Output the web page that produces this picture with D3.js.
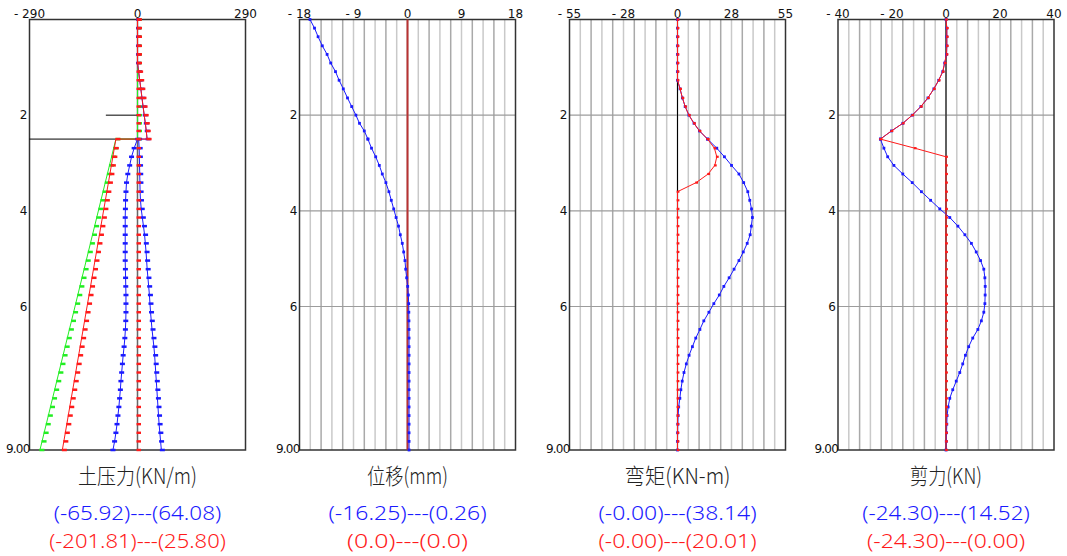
<!DOCTYPE html>
<html>
<head>
  <meta charset="UTF-8">
  <style>
    body { margin: 0; background: #fff; }
    svg { display: block; }
    .num { font-family: "DejaVu Sans", sans-serif; font-size: 12px; fill: #111; }
    .title { font-family: "Noto Sans CJK SC", sans-serif; font-weight: 300; font-size: 22px; fill: #222; }
    .stat { font-family: "Noto Sans", sans-serif; font-weight: 300; font-size: 20px; }
  </style>
</head>
<body>
<svg></svg>
<script src="https://d3js.org/d3.v7.min.js"></script>
<script>

let width = 1067, height = 556;

// depth of each node (m), 2.5 twice for the jump at excavation level
const depths = [0,0.18,0.36,0.55,0.73,0.91,1.09,1.27,1.45,1.64,1.82,2.0,2.17,2.33,2.5,2.5,
  2.69,2.87,3.05,3.23,3.41,3.6,3.78,3.96,4.14,4.32,4.5,4.68,4.86,5.04,5.22,5.4,5.58,5.76,5.94,
  6.12,6.3,6.48,6.66,6.84,7.02,7.2,7.38,7.56,7.74,7.92,8.1,8.28,8.46,8.64,8.82,9.0];

// earth pressure (KN/m)
const pressRed = [0,0,0,0,0,0,3,6,9,12,15,18,21,23.5,25.8,-58,
  -62.2,-66.2,-70.2,-74.1,-78.1,-82.3,-86.3,-90.3,-94.3,-98.3,-102.2,-106.2,-110.2,-114.2,-118.2,-122.1,-126.1,-130.1,-134.1,
  -138.1,-142.1,-146.0,-150.0,-154.0,-158.0,-162.0,-165.9,-169.9,-173.9,-177.9,-181.9,-185.9,-189.8,-193.8,-197.8,-201.81];
const pressGreen = [0,0,0,0,0,0,0,0,0,0,0,0,0,0,0,-58,
  -64.0,-69.6,-75.3,-80.9,-86.6,-92.5,-98.2,-103.8,-109.5,-115.1,-120.8,-126.4,-132.1,-137.7,-143.4,-149.0,-154.7,-160.3,-165.9,
  -171.6,-177.2,-182.9,-188.5,-194.2,-199.8,-205.5,-211.1,-216.8,-222.4,-228.1,-233.7,-239.4,-245.0,-250.7,-256.3,-262.0];
const pressBlueL = [null,null,null,null,null,null,null,null,null,null,null,null,null,null,null,0,
  -9,-16,-21,-26,-29.5,-31,-32,-32.5,-33,-33,-33,-33,-33,-33,-32.5,-32,-31.5,-31,-31,
  -31,-31.5,-32.5,-34,-36,-38.5,-40.5,-42.5,-44.5,-46,-48,-50,-52.5,-55,-58,-61.5,-65.92];
const pressBlueR = [0,0,0,0,0,0,3,6,9,12,15,18,21,23.5,25.8,3,
  4.5,5,5.5,6,6.5,7,8,10,13,16,19,21,23,24.5,26,28,30,32,33.5,
  35,37,39,41.5,44,46,47.5,49,50.5,52,53.5,55,56.5,58,60,62,64.08];
const strutDepth = 2.0, strutLen = -85, excavDepth = 2.5;

// displacement (mm)
const dispBlue = [-16.25,-15.5,-14.9,-14.2,-13.4,-12.8,-12.0,-11.4,-10.7,-10.0,-9.3,-8.6,-8.0,-7.2,-6.6,-6.6,
  -6.0,-5.3,-4.7,-4.2,-3.6,-3.1,-2.7,-2.3,-1.9,-1.5,-1.2,-0.87,-0.64,-0.42,-0.3,-0.14,0.03,0.14,0.2,
  0.22,0.24,0.25,0.26,0.26,0.26,0.26,0.26,0.26,0.26,0.26,0.26,0.26,0.26,0.26,0.26,0.26];

// bending moment (KN-m)
const momRed = [0,0,0,0,0,0,0,0,1.3,2.5,3.9,5.8,8.4,11.2,15.3,15.3,
  18.8,20.01,19.0,15.6,9.5,0,0,0,0,0,0,0,0,0,0,0,0,0,0,
  0,0,0,0,0,0,0,0,0,0,0,0,0,0,0,0,0];
const momBlue = [0,0,0,0,0,0,0,0,1.3,2.5,3.9,5.8,8.4,11.2,15.3,15.3,
  20.0,23.9,27.5,31.3,33.7,35.8,36.8,37.7,38.14,37.6,37.0,35.5,33.5,31.3,28.8,26.3,23.6,21.3,18.5,
  16.0,13.4,11.4,9.3,7.6,5.9,4.5,3.3,2.4,1.7,1.2,0.6,0.3,0.15,0.05,0,0];

// shear force (KN)
const shearRed = [0,0.3,0.3,0.3,0.2,-0.5,-1.2,-2.7,-4.5,-6.7,-9.3,-12.5,-16.0,-20.2,-24.3,-24.3,
  -11.6,0,0,0,0,0,0,0,0,0,0,0,0,0,0,0,0,0,0,
  0,0,0,0,0,0,0,0,0,0,0,0,0,0,0,0,0];
const shearBlue = [0,0.3,0.3,0.3,0.2,-0.5,-1.2,-2.7,-4.5,-6.7,-9.3,-12.5,-16.0,-20.2,-24.3,-24.3,
  -23.0,-21.6,-19.3,-16.0,-12.5,-9.1,-5.7,-2.3,1.4,4.4,7.0,9.4,11.2,12.8,14.0,14.4,14.52,14.5,14.4,
  14.0,13.1,11.8,9.9,8.4,7.2,6.2,5.1,3.8,2.5,1.4,0.8,0.4,0.3,0.2,0.1,0];

const titles = ["土压力(KN/m)", "位移(mm)", "弯矩(KN-m)", "剪力(KN)"];
const titleWidths = [119, 81, 106, 72];
const blueStats = ["(-65.92)---(64.08)", "(-16.25)---(0.26)", "(-0.00)---(38.14)", "(-24.30)---(14.52)"];
const redStats = ["(-201.81)---(25.80)", "(0.0)---(0.0)", "(-0.00)---(20.01)", "(-24.30)---(0.00)"];
const xLimits = [290, 18, 55, 40];
const topTicks = [[-290, 0, 290], [-18, -9, 0, 9, 18], [-55, -27.5, 0, 27.5, 55], [-40, -20, 0, 20, 40]];
const topTickLabels = [["-290", "0", "290"], ["-18", "-9", "0", "9", "18"], ["-55", "-28", "0", "28", "55"], ["-40", "-20", "0", "20", "40"]];
const depthTicks = [2, 4, 6];

let svg = d3.select("svg")
    .attr("width", width).attr("height", height)
    .attr("viewBox", "0 0 " + width + " " + height);

const panelLeft = [29.5, 299.5, 569.5, 838], panelW = 216;
const y = d3.scaleLinear().domain([0, 9]).range([19.5, 450]);
const charW = 9.3; // the value lines are set in a fixed-pitch CAD font

const BLUE = "#1a1aff", RED = "#ff1a1a", GREEN = "#22ee22";

function drawSeries(g, x, vals, color, markW, markH, dx) {
    let pts = depths.map((d, i) => [d, vals[i]]);
    let line = d3.line().defined(p => p[1] != null).x(p => x(p[1])).y(p => y(p[0]));
    g.append("path").attr("d", line(pts)).attr("fill", "none")
        .attr("stroke", color).attr("stroke-width", 1);
    g.append("g").selectAll("rect")
        .data(pts.filter(p => p[1] != null))
        .enter().append("rect")
        .attr("x", p => x(p[1]) - markW / 2 + dx)
        .attr("y", p => y(p[0]) - markH / 2)
        .attr("width", markW).attr("height", markH)
        .attr("fill", color);
}

for (let k = 0; k < 4; k++) {
    let x0 = panelLeft[k];
    let x = d3.scaleLinear().domain([-xLimits[k], xLimits[k]]).range([x0, x0 + panelW]);
    let g = svg.append("g");
    let cx = x0 + panelW / 2;

    if (k > 0) {
        // vertical grid, 20 intervals
        for (let i = 1; i < 20; i++) {
            let xv = x0 + i * panelW / 20;
            g.append("line").attr("x1", xv).attr("x2", xv).attr("y1", y(0)).attr("y2", y(9))
                .attr("stroke", i % 2 ? "#c9c9c9" : "#a9a9a9").attr("stroke-width", 1.5);
        }
        depthTicks.forEach(d => {
            g.append("line").attr("x1", x0).attr("x2", x0 + panelW).attr("y1", y(d)).attr("y2", y(d))
                .attr("stroke", "#9c9c9c").attr("stroke-width", 1.2);
        });
    }

    // frame
    g.append("rect").attr("x", x0).attr("y", y(0)).attr("width", panelW).attr("height", y(9) - y(0))
        .attr("fill", "none").attr("stroke", "#333").attr("stroke-width", 1.5);

    // top labels
    g.selectAll(".tt").data(topTicks[k]).enter().append("text")
        .attr("class", "num").attr("x", v => x(v)).attr("y", 18)
        .attr("text-anchor", "middle")
        .text((v, i) => topTickLabels[k][i].replace("-", "- "));

    // depth labels
    depthTicks.forEach(d => {
        g.append("text").attr("class", "num").attr("x", x0 - 2).attr("y", y(d) + 4)
            .attr("text-anchor", "end").text(d);
    });
    g.append("text").attr("class", "num").attr("x", x0).attr("y", y(9) + 3)
        .attr("text-anchor", "end").attr("letter-spacing", -0.8).text("9.00");

    // titles and extreme values
    g.append("text").attr("class", "title").attr("x", cx - titleWidths[k] / 2).attr("y", 484)
        .attr("textLength", titleWidths[k]).attr("lengthAdjust", "spacingAndGlyphs")
        .text(titles[k]);
    g.append("text").attr("class", "stat").attr("x", cx - blueStats[k].length * charW / 2).attr("y", 520)
        .attr("textLength", blueStats[k].length * charW).attr("lengthAdjust", "spacingAndGlyphs")
        .attr("fill", BLUE).text(blueStats[k]);
    g.append("text").attr("class", "stat").attr("x", cx - redStats[k].length * charW / 2).attr("y", 548)
        .attr("textLength", redStats[k].length * charW).attr("lengthAdjust", "spacingAndGlyphs")
        .attr("fill", RED).text(redStats[k]);

    if (k === 0) {
        g.append("line").attr("x1", x(0)).attr("x2", x(0)).attr("y1", y(0)).attr("y2", y(9))
            .attr("stroke", "#666").attr("stroke-width", 1.5);
        g.append("line").attr("x1", x(strutLen)).attr("x2", x(0)).attr("y1", y(strutDepth)).attr("y2", y(strutDepth))
            .attr("stroke", "#000").attr("stroke-width", 1);
        g.append("line").attr("x1", x0).attr("x2", x(0)).attr("y1", y(excavDepth)).attr("y2", y(excavDepth))
            .attr("stroke", "#000").attr("stroke-width", 1);
        drawSeries(g, x, pressGreen, GREEN, 5, 2.5, 2);
        drawSeries(g, x, pressBlueL, BLUE, 5, 2.5, 0);
        drawSeries(g, x, pressBlueR, BLUE, 5, 2.5, 1);
        drawSeries(g, x, pressRed, RED, 5, 2.5, 2);
        // red node marks on the wall axis
        g.append("g").selectAll("rect").data(depths).enter().append("rect")
            .attr("x", x(0) - 1).attr("y", d => y(d) - 1.2).attr("width", 4.5).attr("height", 2.4)
            .attr("fill", RED);
    } else if (k === 1) {
        g.append("line").attr("x1", x(0)).attr("x2", x(0)).attr("y1", y(0)).attr("y2", y(9))
            .attr("stroke", "#b83232").attr("stroke-width", 2);
        drawSeries(g, x, dispBlue, BLUE, 2.8, 2.8, 0);
    } else {
        g.append("line").attr("x1", x(0)).attr("x2", x(0)).attr("y1", y(0)).attr("y2", y(9))
            .attr("stroke", "#000").attr("stroke-width", 1);
        let blue = k === 2 ? momBlue : shearBlue;
        let red = k === 2 ? momRed : shearRed;
        drawSeries(g, x, blue, BLUE, 2.8, 2.8, 0);
        drawSeries(g, x, red, RED, 2.8, 2.2, 0.5);
    }
}

</script>
</body>
</html>
